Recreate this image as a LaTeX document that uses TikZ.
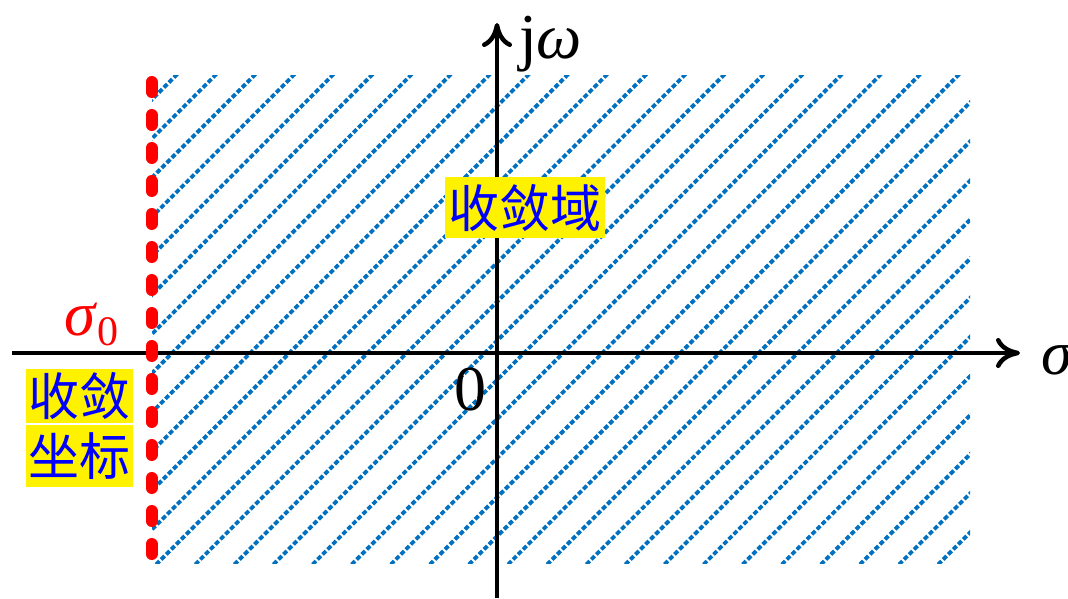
\documentclass[tikz,border=0pt]{standalone}
\usepackage{fontspec}
\newfontfamily\cjk{Noto Sans CJK SC}
\newfontfamily\tms{Liberation Serif}
\usetikzlibrary{arrows.meta}
\definecolor{hatchblue}{RGB}{0,112,192}
\tikzset{
  axisline/.style={line width=4.5pt, -{Computer Modern Rightarrow[length=24pt,width=30pt]}},
  hatchline/.style={hatchblue, line width=3.8pt, dash pattern=on 4.8pt off 2.3pt},
  bound/.style={red, line width=12pt, line cap=round, dash pattern=on 10pt off 23pt},
  cjkbox/.style={fill=yellow, text=blue, inner sep=0pt, font=\cjk\fontsize{51}{55}\selectfont},
  slabel/.style={inner sep=0pt, anchor=base west, font=\tms\fontsize{63}{66}\selectfont},
}
\begin{document}
\begin{tikzpicture}[x=1pt,y=-1pt]
\useasboundingbox (0,0) rectangle (1068,598);
% hatched region
\begin{scope}
  \clip (152,75) rectangle (970,563);
  \foreach \k in {-7,...,28} {
    \draw[hatchline] ({486+39.1*\k-700},700) -- ({486+39.1*\k+100},-100);
  }
\end{scope}
% axes
\coordinate (xs) at (12,353);
\coordinate (xe) at (1020,353);
\coordinate (ys) at (497,598);
\coordinate (ye) at (497,23);
\draw[axisline] (xs) -- (xe);
\draw[axisline] (ys) -- (ye);
% convergence boundary
\coordinate (rt) at (151.5,82);
\coordinate (rb) at (151.5,556);
\draw[bound] (rt) -- (rb);
% labels
\node[slabel, font=\tms\fontsize{64}{66}\selectfont] (jw) at (519,58) {j\textit{ω}};
\node[slabel] (sig) at (1041,374) {\textit{σ}};
\node[inner sep=0pt, anchor=base, font=\tms\fontsize{64}{66}\selectfont] (zero) at (470,410) {0};
\node[slabel, text=red] (s0) at (64,335) {\textit{σ}\raisebox{-10pt}{\fontsize{42}{44}\selectfont 0}};
\node[cjkbox, minimum width=160pt, minimum height=61pt] (roc) at (525,207.5) {收敛域};
\node[cjkbox, minimum width=107pt, minimum height=54pt] (c1) at (79.5,396) {收敛};
\node[cjkbox, minimum width=107pt, minimum height=62pt] (c2) at (79.5,456) {坐标};
\end{tikzpicture}
\end{document}
